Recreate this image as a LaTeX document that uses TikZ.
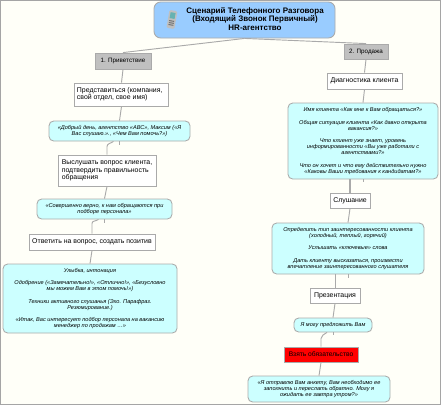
\documentclass[tikz,border=0pt]{standalone}
\usepackage{fontspec}
\setmainfont{Liberation Sans}
\definecolor{PageIvory}{RGB}{255,255,248}
\definecolor{FrameGray}{RGB}{165,165,165}
\definecolor{BorderGray}{RGB}{170,170,170}
\definecolor{TitleBlue}{RGB}{153,204,255}
\definecolor{StageGray}{RGB}{192,192,192}
\definecolor{SpeechCyan}{RGB}{204,255,255}
\definecolor{LinkGray}{RGB}{170,170,170}
\usetikzlibrary{calc}
\tikzset{
  boxbase/.style={draw=BorderGray,line width=0.65pt,inner sep=0pt,align=center},
  titlebox/.style={boxbase,fill=TitleBlue,rounded corners=5pt,minimum width=135.75pt,minimum height=27pt,font=\fontsize{6}{6.5}\selectfont\bfseries},
  stagebox/.style={boxbase,fill=StageGray,font=\fontsize{4.7}{5.5}\selectfont},
  actionbox/.style={boxbase,fill=white,font=\fontsize{5.2}{5.5}\selectfont},
  speechbox/.style={boxbase,fill=SpeechCyan,rounded corners=3.5pt,font=\fontsize{4.2}{4.6}\selectfont\itshape},
  hotbox/.style={boxbase,fill=red,font=\fontsize{5}{6}\selectfont},
  link/.style={draw=LinkGray,line width=0.7pt},
  size/.style 2 args={minimum width=#1*0.75pt,minimum height=#2*0.75pt}
}
\begin{document}
\begin{tikzpicture}[x=0.75pt,y=-0.75pt]
\useasboundingbox (0,0) rectangle (441,405);
\fill[PageIvory] (0,0) rectangle (441,405);
\draw[FrameGray,line width=0.9pt] (0.6,0.6) rectangle (440.4,404.4);
% title and the two stages
\node[titlebox] (title) at (244.5,20) {\hspace*{15.8pt}\begin{tabular}{@{}c@{}}Сценарий Телефонного Разговора\\(Входящий Звонок Первичный)\\HR-агентство\end{tabular}};
\node[stagebox,size={56}{16}] (greet) at (123,61) {1. Приветствие};
\node[stagebox,size={44}{15}] (sale) at (366,51.5) {2. Продажа};
% left column
\node[actionbox,size={94}{23},align=left] (intro) at (121.5,94.5) {Представиться (компания,\\свой отдел, свое имя)\hspace*{14pt}};
\node[speechbox,size={141}{20}] (hello) at (119.5,131) {«Добрый день, агентство «АВС», Максим («Я\\Вас слушаю.»., «Чем Вам помочь?»)};
\node[actionbox,size={98}{31},align=left] (listen) at (107,170.5) {Выслушать вопрос клиента,\\подтвердить правильность\\обращения};
\node[speechbox,size={135}{20}] (right) at (104.5,209) {«Совершенно верно, к нам обращаются при\\подборе персонала»};
\node[actionbox,size={126}{16}] (answer) at (92,242) {Ответить на вопрос, создать позитив};
\node[speechbox,size={174}{69}] (smile) at (90,298.5) {Улыбка, интонация\\[4.6pt]Одобрение («Замечательно!», «Отлично!», «Безусловно\\мы можем Вам в этом помочь!»)\\[4.6pt]Техники активного слушанья (Эхо. Парафраз.\\Резюмирование.)\\[4.6pt]«Итак, Вас интересует подбор персонала на вакансию\\менеджер по продажам …»};
% right column
\node[actionbox,size={75}{16}] (diag) at (364.5,81) {Диагностика клиента};
\node[speechbox,size={150}{76}] (name) at (363,141) {Имя клиента «Как мне к Вам обращаться?»\\[4.6pt]Общая ситуация клиента «Как давно открыта\\вакансия?»\\[4.6pt]Что клиент уже знает, уровень\\информированности «Вы уже работали с\\агентствами?»\\[4.6pt]Что он хочет и что ему действительно нужно\\«Каковы Ваши требования к кандидатам?»};
\node[actionbox,size={40}{15}] (hear) at (350,200.5) {Слушание};
\node[speechbox,size={152}{51}] (interest) at (348,248.5) {Определить тип заинтересованности клиента\\(холодный, теплый, горячий)\\[4.6pt]Услышать «ключевые» слова\\[4.6pt]Дать клиенту высказаться, произвести\\впечатление заинтересованного слушателя};
\node[actionbox,size={50}{15}] (present) at (335,295.5) {Презентация};
\node[speechbox,size={78}{14}] (offer) at (333,325) {Я могу предложить Вам};
\node[hotbox,size={74}{15}] (commit) at (321,354.5) {Взять обязательство};
\node[speechbox,size={142}{26}] (send) at (319,389) {«Я отправлю Вам анкету, Вам необходимо ее\\заполнить и переслать обратно. Могу я\\ожидать ее завтра утром?»};
% links
\draw[link] (title.south) -- (greet.north);
\draw[link] (title.south) -- (sale.north);
\draw[link] (greet.south) -- (intro.north);
\draw[link] (intro.south) -- (hello.north);
\draw[link] (hello.south) -- ++(0,4);
\draw[link] (listen.north) -- ++(0,-8) .. controls +(0,-3) and +(-3,2) .. ($(hello.south)+(-6,0)$);
\draw[link] (listen.south) -- (right.north);
\draw[link] (right.south) -- ++(0,4);
\draw[link] (answer.north) -- ++(0,-10) .. controls +(0,-3) and +(-3,2) .. ($(right.south)+(-6,0)$);
\draw[link] (answer.south) -- (smile.north);
\draw[link] (sale.south) -- (diag.north);
\draw[link] (diag.south) -- (name.north);
\draw[link] (name.south) -- ++(0,3);
\draw[link,line width=1pt] (hear.north) -- ($(name.south)+(-13,0)$);
\draw[link] (hear.south) -- (interest.north);
\draw[link] (interest.south) -- ++(0,4);
\draw[link] (present.north) -- ($(interest.south)+(-13,0)$);
\draw[link] (present.south) -- (offer.north);
\draw[link] (offer.south) -- ++(0,3);
\draw[link] (commit.north) -- ++(0,-8) .. controls +(0,-3) and +(-3,2) .. ($(offer.south)+(-6,0)$);
\draw[link] (commit.south) -- (send.north);
% phone icon
\begin{scope}[rotate around={-10:(172,19)}]
\fill[black!25,rounded corners=1pt] (168,10.5) rectangle (176,28.5);
\fill[teal!60] (169.5,12.5) rectangle (174.5,18.5);
\foreach \ky in {20.5,22.5,24.5}
  \fill[black!55] (169.5,\ky) rectangle (174.5,\ky+1);
\end{scope}
\end{tikzpicture}
\end{document}
